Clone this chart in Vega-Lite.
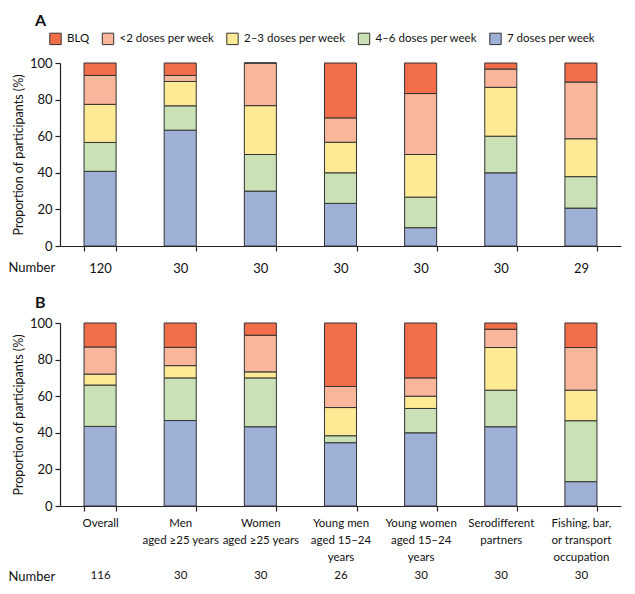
{
  "$schema": "https://vega.github.io/schema/vega-lite/v6.json",
  "padding": {"left": 8, "top": 13, "right": 5, "bottom": 5},
  "config": {
    "font": "Lato, Liberation Sans, sans-serif",
    "view": {"stroke": null},
    "axis": {"domainColor": "#222", "tickColor": "#222", "labelColor": "#111", "titleColor": "#111", "labelFontSize": 13, "titleFontSize": 12.5, "titleFontWeight": "normal", "grid": false, "tickSize": 5, "domainWidth": 1.2, "tickWidth": 1.2},
    "legend": {"symbolType": "square", "symbolSize": 130, "symbolStrokeColor": "#333", "symbolStrokeWidth": 1, "labelFontSize": 11.5, "labelColor": "#111", "columnPadding": 9.5, "labelOffset": 5},
    "title": {"fontSize": 16, "fontWeight": "bold", "anchor": "start", "color": "#111", "frame": "group"}
  },
  "datasets": {
    "a": [
      {"group": "Overall", "n": 120, "category": "7 doses per week", "pct": 40.8},
      {"group": "Overall", "n": 120, "category": "4–6 doses per week", "pct": 15.8},
      {"group": "Overall", "n": 120, "category": "2–3 doses per week", "pct": 20.8},
      {"group": "Overall", "n": 120, "category": "<2 doses per week", "pct": 15.8},
      {"group": "Overall", "n": 120, "category": "BLQ", "pct": 6.8},
      {"group": "Men\naged ≥25 years", "n": 30, "category": "7 doses per week", "pct": 63.3},
      {"group": "Men\naged ≥25 years", "n": 30, "category": "4–6 doses per week", "pct": 13.3},
      {"group": "Men\naged ≥25 years", "n": 30, "category": "2–3 doses per week", "pct": 13.3},
      {"group": "Men\naged ≥25 years", "n": 30, "category": "<2 doses per week", "pct": 3.3},
      {"group": "Men\naged ≥25 years", "n": 30, "category": "BLQ", "pct": 6.8},
      {"group": "Women\naged ≥25 years", "n": 30, "category": "7 doses per week", "pct": 30},
      {"group": "Women\naged ≥25 years", "n": 30, "category": "4–6 doses per week", "pct": 20},
      {"group": "Women\naged ≥25 years", "n": 30, "category": "2–3 doses per week", "pct": 26.7},
      {"group": "Women\naged ≥25 years", "n": 30, "category": "<2 doses per week", "pct": 23.3},
      {"group": "Women\naged ≥25 years", "n": 30, "category": "BLQ", "pct": 0},
      {"group": "Young men\naged 15–24\nyears", "n": 30, "category": "7 doses per week", "pct": 23.3},
      {"group": "Young men\naged 15–24\nyears", "n": 30, "category": "4–6 doses per week", "pct": 16.7},
      {"group": "Young men\naged 15–24\nyears", "n": 30, "category": "2–3 doses per week", "pct": 16.7},
      {"group": "Young men\naged 15–24\nyears", "n": 30, "category": "<2 doses per week", "pct": 13.3},
      {"group": "Young men\naged 15–24\nyears", "n": 30, "category": "BLQ", "pct": 30},
      {"group": "Young women\naged 15–24\nyears", "n": 30, "category": "7 doses per week", "pct": 10},
      {"group": "Young women\naged 15–24\nyears", "n": 30, "category": "4–6 doses per week", "pct": 16.7},
      {"group": "Young women\naged 15–24\nyears", "n": 30, "category": "2–3 doses per week", "pct": 23.3},
      {"group": "Young women\naged 15–24\nyears", "n": 30, "category": "<2 doses per week", "pct": 33.3},
      {"group": "Young women\naged 15–24\nyears", "n": 30, "category": "BLQ", "pct": 16.7},
      {"group": "Serodifferent\npartners", "n": 30, "category": "7 doses per week", "pct": 40},
      {"group": "Serodifferent\npartners", "n": 30, "category": "4–6 doses per week", "pct": 20},
      {"group": "Serodifferent\npartners", "n": 30, "category": "2–3 doses per week", "pct": 26.7},
      {"group": "Serodifferent\npartners", "n": 30, "category": "<2 doses per week", "pct": 10},
      {"group": "Serodifferent\npartners", "n": 30, "category": "BLQ", "pct": 3.3},
      {"group": "Fishing, bar,\nor transport\noccupation", "n": 29, "category": "7 doses per week", "pct": 20.7},
      {"group": "Fishing, bar,\nor transport\noccupation", "n": 29, "category": "4–6 doses per week", "pct": 17.2},
      {"group": "Fishing, bar,\nor transport\noccupation", "n": 29, "category": "2–3 doses per week", "pct": 20.7},
      {"group": "Fishing, bar,\nor transport\noccupation", "n": 29, "category": "<2 doses per week", "pct": 31.0},
      {"group": "Fishing, bar,\nor transport\noccupation", "n": 29, "category": "BLQ", "pct": 10.4}
    ],
    "b": [
      {"group": "Overall", "n": 116, "category": "7 doses per week", "pct": 43.5},
      {"group": "Overall", "n": 116, "category": "4–6 doses per week", "pct": 22.6},
      {"group": "Overall", "n": 116, "category": "2–3 doses per week", "pct": 6.0},
      {"group": "Overall", "n": 116, "category": "<2 doses per week", "pct": 14.8},
      {"group": "Overall", "n": 116, "category": "BLQ", "pct": 13.1},
      {"group": "Men\naged ≥25 years", "n": 30, "category": "7 doses per week", "pct": 46.7},
      {"group": "Men\naged ≥25 years", "n": 30, "category": "4–6 doses per week", "pct": 23.3},
      {"group": "Men\naged ≥25 years", "n": 30, "category": "2–3 doses per week", "pct": 6.7},
      {"group": "Men\naged ≥25 years", "n": 30, "category": "<2 doses per week", "pct": 10},
      {"group": "Men\naged ≥25 years", "n": 30, "category": "BLQ", "pct": 13.3},
      {"group": "Women\naged ≥25 years", "n": 30, "category": "7 doses per week", "pct": 43.3},
      {"group": "Women\naged ≥25 years", "n": 30, "category": "4–6 doses per week", "pct": 26.7},
      {"group": "Women\naged ≥25 years", "n": 30, "category": "2–3 doses per week", "pct": 3.3},
      {"group": "Women\naged ≥25 years", "n": 30, "category": "<2 doses per week", "pct": 20},
      {"group": "Women\naged ≥25 years", "n": 30, "category": "BLQ", "pct": 6.7},
      {"group": "Young men\naged 15–24\nyears", "n": 26, "category": "7 doses per week", "pct": 34.6},
      {"group": "Young men\naged 15–24\nyears", "n": 26, "category": "4–6 doses per week", "pct": 3.8},
      {"group": "Young men\naged 15–24\nyears", "n": 26, "category": "2–3 doses per week", "pct": 15.4},
      {"group": "Young men\naged 15–24\nyears", "n": 26, "category": "<2 doses per week", "pct": 11.5},
      {"group": "Young men\naged 15–24\nyears", "n": 26, "category": "BLQ", "pct": 34.7},
      {"group": "Young women\naged 15–24\nyears", "n": 30, "category": "7 doses per week", "pct": 40},
      {"group": "Young women\naged 15–24\nyears", "n": 30, "category": "4–6 doses per week", "pct": 13.3},
      {"group": "Young women\naged 15–24\nyears", "n": 30, "category": "2–3 doses per week", "pct": 6.7},
      {"group": "Young women\naged 15–24\nyears", "n": 30, "category": "<2 doses per week", "pct": 10},
      {"group": "Young women\naged 15–24\nyears", "n": 30, "category": "BLQ", "pct": 30},
      {"group": "Serodifferent\npartners", "n": 30, "category": "7 doses per week", "pct": 43.3},
      {"group": "Serodifferent\npartners", "n": 30, "category": "4–6 doses per week", "pct": 20},
      {"group": "Serodifferent\npartners", "n": 30, "category": "2–3 doses per week", "pct": 23.3},
      {"group": "Serodifferent\npartners", "n": 30, "category": "<2 doses per week", "pct": 10},
      {"group": "Serodifferent\npartners", "n": 30, "category": "BLQ", "pct": 3.4},
      {"group": "Fishing, bar,\nor transport\noccupation", "n": 30, "category": "7 doses per week", "pct": 13.3},
      {"group": "Fishing, bar,\nor transport\noccupation", "n": 30, "category": "4–6 doses per week", "pct": 33.3},
      {"group": "Fishing, bar,\nor transport\noccupation", "n": 30, "category": "2–3 doses per week", "pct": 16.7},
      {"group": "Fishing, bar,\nor transport\noccupation", "n": 30, "category": "<2 doses per week", "pct": 23.3},
      {"group": "Fishing, bar,\nor transport\noccupation", "n": 30, "category": "BLQ", "pct": 13.4}
    ]
  },
  "spacing": 20,
  "resolve": {"scale": {"x": "independent"}, "legend": {"color": "independent"}},
  "vconcat": [
    {
      "data": {"name": "a"},
      "width": 561,
      "height": 183,
      "title": {"text": "A", "dx": -25, "offset": 3},
      "transform": [
        {"calculate": "datum.group + '|' + datum.n", "as": "key"},
        {"calculate": "indexof(['7 doses per week','4–6 doses per week','2–3 doses per week','<2 doses per week','BLQ'], datum.category)", "as": "ord"}
      ],
      "mark": {"type": "bar", "stroke": "#333", "strokeWidth": 1},
      "encoding": {
        "x": {"field": "key", "type": "nominal", "sort": null,
          "scale": {"paddingInner": 0.6, "paddingOuter": 0.3},
          "axis": {"title": "Number", "labelExpr": "isValid(datum.value) ? split(datum.value,'|')[1] : ''", "labelAngle": 0, "tickBand": "extent", "labelPadding": 11, "titleAnchor": "start", "titleAlign": "left", "titleX": -52, "titleY": 15, "titleBaseline": "top", "titleFontSize": 13}},
        "y": {"field": "pct", "type": "quantitative", "stack": "zero", "scale": {"domain": [0, 100]},
          "axis": {"title": "Proportion of participants (%)", "values": [0, 20, 40, 60, 80, 100], "labelPadding": 3}},
        "color": {"field": "category", "type": "nominal",
          "scale": {"domain": ["BLQ", "<2 doses per week", "2–3 doses per week", "4–6 doses per week", "7 doses per week"], "range": ["#F26D4A", "#F9B69A", "#FEEA95", "#CAE1B5", "#9FB0D7"]},
          "legend": {"orient": "none", "direction": "horizontal", "legendX": -11, "legendY": -31, "title": null}},
        "order": {"field": "ord"}
      }
    },
    {
      "data": {"name": "b"},
      "width": 561,
      "height": 183,
      "title": {"text": "B", "dx": -25, "offset": 6},
      "transform": [
        {"calculate": "datum.group + '|' + datum.n", "as": "key"},
        {"calculate": "indexof(['7 doses per week','4–6 doses per week','2–3 doses per week','<2 doses per week','BLQ'], datum.category)", "as": "ord"}
      ],
      "mark": {"type": "bar", "stroke": "#333", "strokeWidth": 1},
      "encoding": {
        "x": {"field": "key", "type": "nominal", "sort": null,
          "scale": {"paddingInner": 0.6, "paddingOuter": 0.3},
          "axis": {"title": "Number", "labelExpr": "isValid(datum.value) ? [split(split(datum.value,'|')[0],'\\n')[0], split(split(datum.value,'|')[0],'\\n')[1] || '\u200b', split(split(datum.value,'|')[0],'\\n')[2] || '\u200b', split(datum.value,'|')[1]] : ''", "labelAngle": 0, "labelFontSize": 11.5, "labelLineHeight": 17.4, "tickBand": "extent", "labelPadding": 6, "titleAnchor": "start", "titleAlign": "left", "titleX": -52, "titleY": 64, "titleBaseline": "top", "titleFontSize": 13}},
        "y": {"field": "pct", "type": "quantitative", "stack": "zero", "scale": {"domain": [0, 100]},
          "axis": {"title": "Proportion of participants (%)", "values": [0, 20, 40, 60, 80, 100], "labelPadding": 3}},
        "color": {"field": "category", "type": "nominal",
          "scale": {"domain": ["BLQ", "<2 doses per week", "2–3 doses per week", "4–6 doses per week", "7 doses per week"], "range": ["#F26D4A", "#F9B69A", "#FEEA95", "#CAE1B5", "#9FB0D7"]},
          "legend": null},
        "order": {"field": "ord"}
      }
    }
  ]
}
